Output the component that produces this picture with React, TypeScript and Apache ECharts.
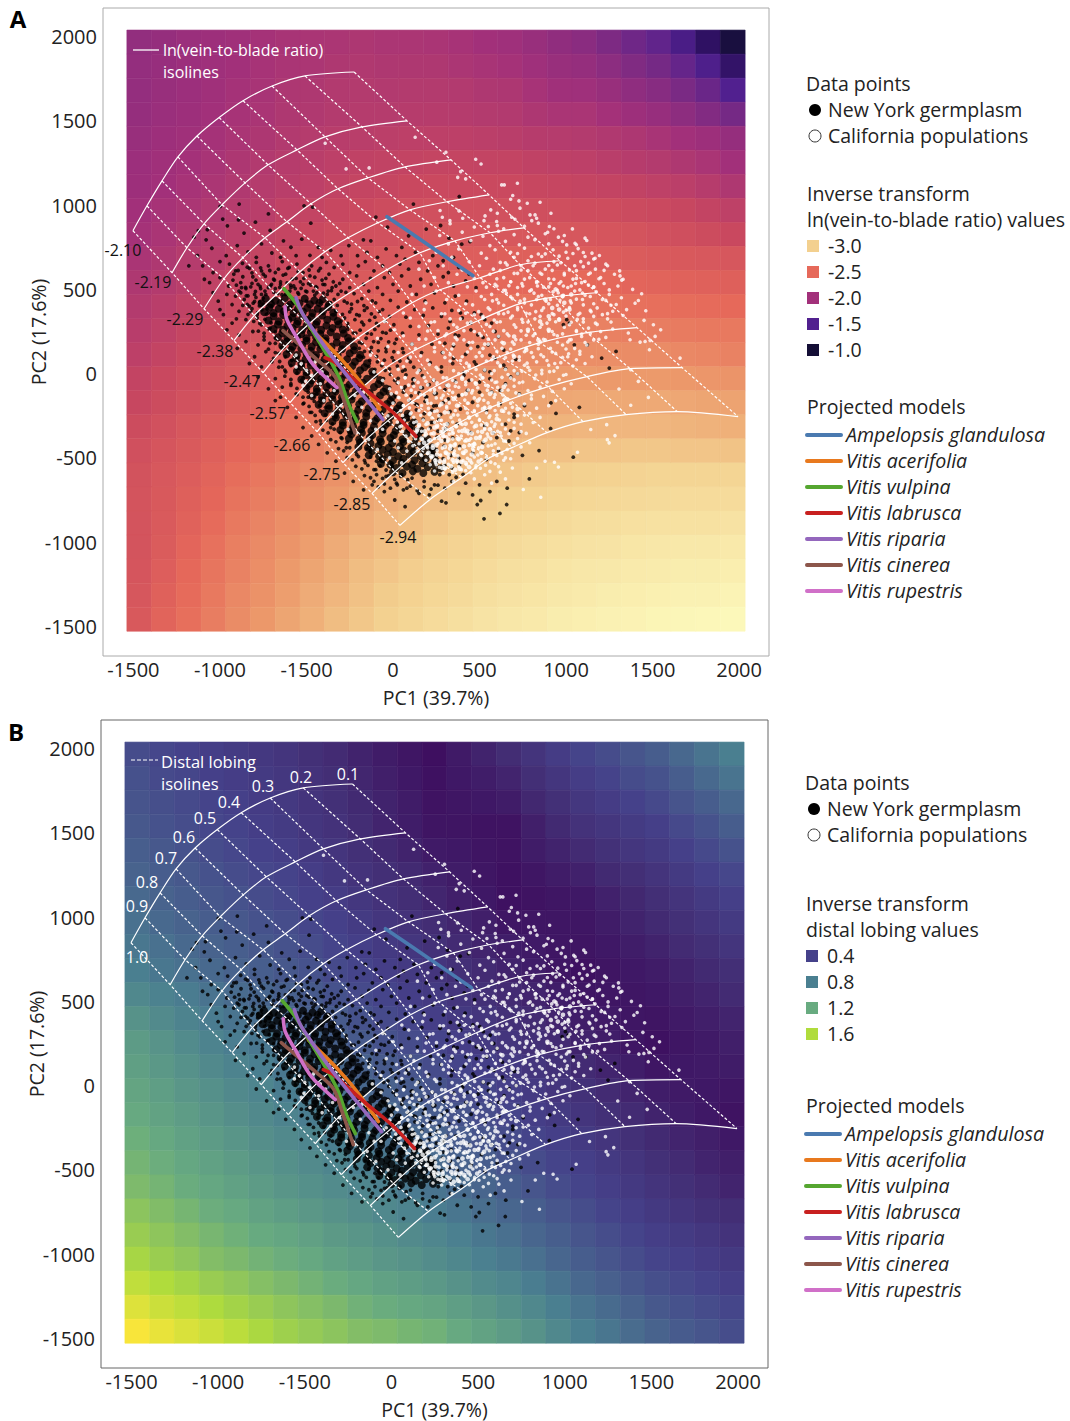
import React, { useEffect, useRef } from "react";
import * as echarts from "echarts";

const xTickValues = [-1500, -1000, -500, 0, 500, 1000, 1500, 2000];
const xTickLabels = ["-1500", "-1000", "-1500", "0", "500", "1000", "1500", "2000"];
const yTickValues = [-1500, -1000, -500, 0, 500, 1000, 1500, 2000];
const yTickLabels = ["-1500", "-1000", "-500", "0", "500", "1000", "1500", "2000"];

// -ln(vein-to-blade ratio) x 100, top row first
const veinRows = [
[190,192,195,197,199,202,204,205,206,207,206,206,205,203,200,198,194,189,185,177,168,160,145,125,105],
[191,193,196,198,200,203,205,206,208,209,208,208,208,206,204,202,198,194,192,186,179,172,162,148,128],
[191,194,196,199,202,204,207,208,210,211,210,211,211,210,208,207,203,199,198,194,188,183,175,165,150],
[192,195,197,200,203,205,208,209,211,212,212,213,213,212,211,210,207,205,205,201,197,193,187,180,172],
[194,197,199,202,205,207,210,212,214,215,216,217,217,217,216,215,213,212,211,209,207,204,200,197,192],
[196,199,201,204,207,210,213,215,217,219,220,221,222,222,221,221,219,218,217,215,213,211,208,205,200],
[197,200,203,206,209,212,215,217,220,222,223,225,226,226,226,226,224,223,222,221,220,218,216,213,208],
[200,203,206,209,212,215,219,221,224,226,228,230,231,231,231,232,230,230,229,229,227,226,224,221,218],
[202,205,209,212,216,219,222,225,228,231,232,234,236,237,237,237,237,236,236,235,234,232,230,228,225],
[205,208,212,215,219,222,226,229,232,235,237,239,241,242,242,243,243,243,242,241,240,239,238,237,236],
[208,211,215,219,223,226,230,233,236,239,242,243,246,247,248,249,249,250,250,249,247,246,245,244,243],
[211,215,219,222,226,230,234,237,241,244,246,248,251,253,253,255,256,256,256,255,254,253,252,251,250],
[214,218,222,226,230,234,238,241,245,248,251,253,256,258,259,261,262,262,263,262,261,260,259,258,258],
[217,221,225,229,234,238,242,245,249,253,256,258,261,263,265,267,268,268,269,269,268,268,266,265,263],
[221,225,229,233,237,241,246,250,254,258,261,264,267,269,271,273,274,275,276,275,275,275,274,273,272],
[224,228,232,236,241,245,250,254,258,262,265,269,272,274,277,279,280,281,282,282,282,282,281,280,279],
[228,232,236,240,245,249,254,258,262,267,270,274,277,279,282,284,286,287,288,288,288,288,287,286,285],
[231,235,239,243,248,253,258,262,267,271,275,279,282,285,287,290,292,293,295,295,296,296,295,295,294],
[233,237,241,246,252,257,262,267,271,276,280,283,287,290,292,295,297,299,301,302,303,304,304,304,304],
[234,238,243,248,255,260,265,270,275,280,284,287,291,294,297,300,302,304,306,307,308,309,310,310,310],
[234,239,245,251,258,264,269,274,279,284,288,292,296,299,301,304,306,309,311,312,314,315,315,315,316],
[234,240,247,254,261,267,272,277,283,288,292,296,300,303,306,309,311,314,316,317,319,320,321,321,322],
[235,242,249,256,263,269,275,280,285,291,295,299,303,306,310,313,315,318,320,321,323,324,325,325,326],
[236,244,251,258,266,271,277,283,288,293,298,302,306,309,313,316,318,321,323,325,326,328,329,329,331],
[238,246,253,260,268,274,280,285,291,296,301,305,310,313,317,320,322,325,327,329,330,332,333,334,335],
];

// distal lobing x 100, top row first
const lobingRows = [
[47,44,40,37,34,31,28,23,19,14,10,7,3,9,14,20,27,35,42,47,53,58,65,73,80],
[50,46,43,39,36,33,30,25,21,16,12,8,4,8,11,15,22,29,36,41,47,51,58,66,73],
[52,49,46,42,39,35,32,27,23,18,14,10,5,7,8,10,17,23,30,35,40,45,52,58,65],
[55,51,48,44,41,37,34,29,25,20,15,11,6,6,5,5,12,18,25,29,34,38,45,51,58],
[59,55,51,47,44,40,37,32,28,23,18,14,9,8,6,5,10,14,19,24,29,33,39,45,51],
[62,58,55,51,47,44,41,36,31,26,22,18,13,10,7,4,7,10,13,18,22,27,33,39,44],
[66,62,58,54,51,47,44,39,35,30,25,21,16,12,8,4,5,7,8,13,17,22,27,33,38],
[71,66,62,58,55,51,48,43,39,34,29,25,20,16,12,7,7,7,7,10,14,18,23,28,33],
[75,71,66,62,59,55,51,47,42,38,33,29,24,19,15,11,9,7,6,8,11,14,19,23,28],
[80,75,71,66,62,59,55,51,46,42,37,33,28,23,19,14,11,7,4,6,8,10,14,18,22],
[88,83,78,72,68,64,60,56,51,46,42,37,33,28,23,19,15,11,7,7,7,8,12,15,19],
[97,90,84,78,73,69,65,60,56,51,46,42,37,32,28,23,19,15,11,9,7,6,9,12,15],
[105,98,91,84,79,75,70,65,61,56,51,47,42,37,33,28,23,19,14,11,7,4,7,9,12],
[109,103,96,89,84,80,75,70,66,61,56,52,47,42,38,33,28,24,19,15,11,7,8,9,10],
[114,108,101,95,89,85,79,75,71,66,61,57,52,47,43,38,33,28,24,19,15,11,9,8,7],
[118,112,106,100,94,89,84,79,75,70,66,61,57,52,47,42,37,33,28,23,19,14,11,8,5],
[123,117,111,105,100,94,89,85,80,75,71,66,62,57,52,47,42,38,33,28,23,18,15,12,8],
[127,122,116,111,105,100,95,90,85,81,76,72,67,62,58,52,47,42,38,33,28,23,19,15,12],
[132,127,121,116,111,105,100,95,91,86,82,77,73,68,63,58,53,47,42,37,32,27,23,19,15],
[140,134,128,122,118,112,107,102,97,93,88,84,79,74,69,64,59,53,48,42,37,32,28,24,21],
[147,141,135,129,124,119,115,110,104,100,95,90,86,81,75,70,64,59,53,48,42,37,34,30,26],
[155,148,142,135,131,126,122,117,111,106,101,97,92,87,81,76,70,64,58,53,47,42,39,35,32],
[167,160,154,147,142,136,131,126,121,116,111,107,103,97,91,86,79,72,65,60,54,49,45,41,37],
[180,172,166,159,153,147,141,136,131,125,121,117,114,108,102,95,88,80,73,67,61,55,51,47,43],
[192,185,178,172,165,157,150,145,140,135,132,128,125,118,112,105,97,88,80,74,68,62,57,53,48],
];

// isoline nodes [PC1, PC2]: one row per vein-to-blade isoline, one column per lobing isoline
const isoNodes = [
[[-1503,848],[-1422,996],[-1335,1144],[-1243,1286],[-1133,1410],[-1005,1520],[-867,1620],[-699,1707],[-509,1767],[-225,1790]],
[[-1277,599],[-1191,747],[-1092,889],[-988,1002],[-855,1132],[-722,1239],[-555,1328],[-393,1405],[-179,1464],[81,1500]],
[[-1092,385],[-977,563],[-867,688],[-740,806],[-613,901],[-474,1008],[-318,1097],[-145,1162],[69,1227],[335,1269]],
[[-919,196],[-803,344],[-676,468],[-538,605],[-393,723],[-260,806],[-87,895],[98,972],[312,1020],[555,1061]],
[[-751,6],[-624,160],[-491,290],[-353,409],[-202,510],[-35,617],[156,717],[358,788],[561,836],[757,865]],
[[-595,-172],[-468,-24],[-335,101],[-202,213],[-46,320],[110,421],[272,498],[503,569],[734,646],[965,670]],
[[-439,-344],[-318,-202],[-179,-83],[-40,36],[110,130],[254,202],[491,314],[734,415],[936,456],[1179,480]],
[[-289,-528],[-162,-397],[-29,-279],[110,-166],[254,-71],[428,18],[618,101],[850,184],[1121,243],[1410,273]],
[[-121,-711],[12,-581],[156,-451],[318,-332],[474,-243],[676,-154],[896,-77],[1121,-18],[1370,30],[1670,36]],
[[40,-901],[214,-747],[399,-617],[561,-498],[688,-439],[890,-350],[1098,-285],[1347,-243],[1642,-225],[1994,-255]],
];

const veinIsoLabels = ["-2.10", "-2.19", "-2.29", "-2.38", "-2.47", "-2.57", "-2.66", "-2.75", "-2.85", "-2.94"];
const lobingIsoLabels = ["1.0", "0.9", "0.8", "0.7", "0.6", "0.5", "0.4", "0.3", "0.2", "0.1"];

const modelNames = ["Ampelopsis glandulosa", "Vitis acerifolia", "Vitis vulpina", "Vitis labrusca", "Vitis riparia", "Vitis cinerea", "Vitis rupestris"];
const ampelopsis = [[-35,931],[202,765],[462,581]];
const acerifolia = [[-480,273],[-439,231],[-324,113],[-208,-24],[-75,-213]];
const vulpina = [[-630,504],[-555,409],[-480,279],[-370,90],[-306,-36],[-260,-172],[-208,-285]];
const labrusca = [[-393,95],[-335,65],[-173,-83],[0,-231],[133,-373]];
const riparia = [[-561,451],[-526,362],[-462,261],[-347,95],[-191,-107],[-58,-273]];
const cinerea = [[-636,255],[-555,184],[-439,83],[-335,-18],[-289,-142],[-220,-350]];
const rupestris = [[-624,397],[-613,320],[-555,213],[-462,53],[-324,-83]];

// New York germplasm, flat PC1,PC2 pairs
const nyPoints = [
-889,1006,-999,992,-984,917,-893,913,-795,899,-720,948,-514,996,-464,988,-475,893,-99,929,118,1006,-1125,848,-1073,854,-957,877,-861,834,-710,850,-1150,810,-1080,794,-633,788,-527,798,-431,749,-171,794,-128,788,90,818,51,749,-32,869,192,858,275,879,383,1051,324,804,397,768,445,784,
1042,-496,844,-457,748,-485,788,-625,911,-326,1077,-200,913,-174,942,-236,1250,33,1206,92,1289,132,1123,171,1048,171,1004,320,1020,300,985,290,657,-777,618,-830,526,-862,507,-753,487,-777,281,-757,306,-767,
-1047,744,-964,700,-900,760,-838,722,-790,690,-760,770,-700,716,-650,690,-590,750,-560,700,-480,702,-410,690,-360,732,-300,700,-255,760,-205,700,-150,720,-90,690,-40,740,20,700,70,680,130,720,230,700,290,670,350,690,
-1100,640,-1040,600,-1000,665,-945,650,-910,610,-870,655,-830,625,-790,660,-760,610,-720,640,-680,600,-640,665,-600,630,-555,650,-520,600,-470,640,-430,610,-385,660,-340,630,-290,650,-250,600,-200,640,-160,665,-110,610,-60,640,-20,600,40,650,90,620,150,660,200,610,260,640,320,600,380,630,440,590,
-1060,540,-1000,570,-950,520,-920,590,-880,540,-850,505,-810,575,-780,530,-750,590,-720,510,-690,560,-650,530,-620,590,-590,510,-560,565,-520,530,-480,580,-440,510,-410,555,-370,590,-330,520,-290,560,-250,510,-210,580,-170,530,-130,565,-90,510,-50,570,0,530,50,580,100,520,160,560,220,530,290,575,350,520,420,550,480,510,
-1010,430,-960,470,-930,410,-890,490,-860,440,-830,400,-800,470,-770,425,-740,490,-700,405,-665,475,-630,500,-590,450,-550,480,-500,430,-460,490,-420,420,-380,470,-340,440,-300,490,-265,420,-225,475,-180,445,-140,490,-100,420,-60,470,-15,435,30,490,80,425,135,470,185,430,240,480,300,420,360,460,425,430,
-980,350,-930,300,-890,370,-850,320,-815,385,-785,330,-760,290,-720,360,-330,370,-280,330,-240,385,-195,345,-150,390,-105,335,-60,380,-20,340,30,395,75,335,125,380,175,345,230,390,280,340,340,375,400,330,470,360,530,320,
-890,230,-850,190,-810,250,-780,170,-745,220,-710,270,-680,180,-260,280,-215,240,-170,290,-125,235,-85,285,-40,240,5,290,55,240,100,280,150,230,205,285,260,235,320,270,380,225,450,260,520,215,590,250,
-800,100,-760,40,-735,130,-700,70,-660,120,-640,40,-180,180,-130,130,-85,185,-40,130,10,180,60,125,110,175,165,125,225,175,285,125,350,165,420,115,490,160,560,110,640,140,
-680,-30,-640,-80,-620,10,-590,-60,-560,-120,-530,-40,-90,70,-45,20,5,75,55,15,100,70,155,20,215,65,280,10,345,60,410,5,480,55,560,10,640,50,720,0,
-520,-180,-490,-140,-470,-230,-440,-120,-420,-280,-390,-200,-360,-320,-330,-260,10,-40,60,-90,115,-35,170,-85,235,-40,300,-95,360,-45,430,-100,500,-50,570,-110,650,-60,730,-120,
-300,-380,-270,-440,-240,-350,-210,-480,-190,-420,-160,-530,-130,-460,-100,-570,-70,-510,-40,-610,-10,-540,20,-650,130,-180,190,-140,250,-190,320,-150,390,-210,460,-170,540,-220,620,-180,700,-240,
50,-600,80,-680,110,-620,150,-710,180,-640,210,-720,240,-660,270,-600,300,-680,340,-640,380,-710,420,-650,460,-720,500,-660,560,-700,600,-640,660,-680,230,-290,300,-340,370,-300,450,-350,530,-310,600,-380,680,-340,
-650,-140,-610,-200,-560,-260,-520,-320,-470,-370,-430,-420,-380,-470,-330,-520,-280,-590,-230,-640,-170,-690,-110,-640,-50,-700,10,-750,70,-790,
-1130,700,-1180,640,-1090,560,-1040,480,-1000,380,-960,260,-900,150,-830,60,-780,-20,-720,-90,-680,-160,
];

// second reading of the New York cloud: the fringe round the dense band
const nyFringePoints = [
-905,525,-852,512,-815,535,-768,518,-702,530,-655,512,-612,538,-574,520,-531,506,-488,534,-446,516,-394,528,-352,510,-308,535,
-880,480,-838,462,-795,488,-760,470,-688,482,-642,468,-596,490,-545,472,-498,486,-452,465,-402,478,-356,492,-318,470,-272,482,
-842,410,-800,428,-772,402,-750,448,-362,420,-322,405,-282,430,-240,412,-205,428,-168,404,-120,432,
-822,368,-785,350,-758,378,-732,352,-330,372,-292,352,-250,366,-210,350,-165,375,-125,355,-80,368,
-805,310,-770,298,-740,322,-705,302,-300,312,-262,298,-220,320,-180,305,-135,316,-95,298,-45,312,
-778,252,-745,240,-718,265,-680,248,-262,262,-230,242,-190,258,-150,240,-105,262,-60,245,-15,258,
-745,200,-712,180,-680,212,-640,192,-228,205,-195,185,-155,210,-112,190,-70,208,-25,188,20,205,
-720,145,-680,125,-645,155,-610,135,-195,150,-165,132,-125,155,-85,135,-40,150,5,130,55,148,
-690,90,-655,72,-622,100,-585,78,-170,98,-135,78,-95,102,-50,80,-5,95,40,75,90,92,
-660,38,-625,20,-590,48,-555,28,-140,42,-105,25,-65,48,-20,28,25,45,70,22,120,38,
-625,-15,-590,-35,-555,5,-520,-25,-95,-12,-55,-30,-15,-5,30,-28,75,-8,120,-32,170,-12,
-590,-70,-555,-88,-520,-55,-495,-85,-60,-62,-20,-82,25,-55,70,-78,115,-60,160,-85,210,-65,
-555,-125,-520,-140,-490,-110,-460,-135,-30,-118,15,-135,60,-110,105,-132,150,-115,195,-138,250,-118,
-515,-175,-485,-195,-455,-165,-425,-190,5,-170,50,-188,95,-160,140,-185,185,-165,235,-192,290,-172,
-480,-230,-450,-248,-420,-222,-390,-245,45,-225,90,-240,135,-215,180,-238,225,-218,275,-242,330,-225,
-445,-285,-415,-300,-385,-278,-350,-298,90,-275,130,-292,175,-270,220,-290,265,-272,315,-298,
-405,-335,-375,-352,-340,-330,-305,-350,130,-330,170,-345,215,-322,260,-342,305,-325,
-360,-392,-330,-405,-295,-385,-265,-408,170,-382,210,-398,255,-375,300,-395,345,-380,
-315,-445,-285,-458,-250,-440,-215,-462,-150,-445,205,-435,250,-450,295,-430,340,-448,385,-432,
-265,-498,-235,-512,-200,-492,-165,-515,-130,-495,-95,-520,250,-490,290,-505,335,-485,380,-502,
-215,-550,-180,-565,-145,-545,-110,-570,-75,-548,-40,-572,-5,-555,300,-545,340,-560,385,-540,
-165,-605,-130,-618,-95,-600,-60,-622,-25,-605,10,-628,45,-610,85,-630,325,-600,365,-615,405,-598,
-120,-660,-85,-672,-50,-655,-15,-680,25,-660,60,-690,100,-668,140,-695,180,-672,220,-685,260,-662,
240,-120,310,-70,380,-130,440,-40,500,-110,560,-30,620,-100,680,-20,
280,40,350,90,410,-10,470,70,530,20,590,90,650,30,710,85,
300,180,360,230,430,170,490,230,550,170,610,220,
330,310,390,360,450,300,510,350,570,300,
700,-260,760,-190,650,-300,580,-350,520,-410,460,-470,540,-510,610,-460,670,-400,730,-350,
-925,555,-895,612,-868,575,-842,632,-815,598,-792,555,-765,628,-738,578,-712,612,-685,555,-662,620,-635,585,-608,625,-582,560,-548,605,-515,565,-485,615,-452,572,-420,625,-388,565,
-910,460,-875,510,-848,462,-822,515,-792,452,-765,505,-735,470,-708,520,-680,505,-650,545,-622,470,-592,525,-565,505,-535,545,-505,490,-475,525,-440,480,-405,530,-375,490,-345,545,
-905,325,-868,405,-838,352,-808,418,-782,362,-752,412,-728,385,-700,435,
];

// dense part of the New York cloud, drawn with bigger dots
const nyCorePoints = [
-735,445,-680,432,-625,448,-570,430,-510,445,-455,434,-405,442,
-715,392,-660,385,-605,395,-550,382,-495,390,-435,385,-375,395,
-690,340,-635,348,-580,335,-525,345,-470,336,-410,345,-345,338,
-665,292,-610,285,-555,295,-500,285,-445,292,-385,285,-315,292,
-640,240,-585,248,-530,235,-475,245,-420,236,-360,246,-285,238,
-610,192,-555,185,-500,195,-445,186,-390,194,-325,185,-255,192,
-590,140,-530,148,-475,135,-420,146,-365,136,-295,145,-225,138,
-560,92,-505,85,-450,95,-395,86,-335,94,-265,85,-195,92,
-530,40,-475,48,-420,35,-365,46,-305,36,-235,45,-165,38,
-500,-8,-445,-15,-390,-5,-335,-14,-275,-6,-205,-15,-115,-8,
-480,-60,-420,-52,-365,-65,-310,-54,-250,-64,-175,-55,-85,-62,
-440,-108,-385,-115,-330,-105,-275,-114,-215,-106,-135,-115,-55,-108,
-410,-160,-350,-152,-295,-165,-240,-154,-180,-164,-100,-155,-15,-162,
-370,-208,-315,-215,-260,-205,-200,-214,-140,-206,-60,-215,25,-208,
-330,-260,-270,-252,-215,-265,-155,-254,-90,-264,-15,-255,75,-262,
-290,-308,-230,-315,-170,-305,-110,-314,-45,-306,30,-315,105,-308,
-240,-360,-180,-352,-120,-365,-60,-354,5,-364,80,-355,145,-362,
-190,-408,-130,-415,-70,-405,-5,-414,60,-406,125,-415,185,-408,
-120,-460,-60,-452,0,-465,60,-454,120,-464,180,-455,225,-462,
-60,-508,0,-515,60,-505,125,-514,190,-506,245,-515,
20,-560,80,-552,140,-565,200,-554,275,-562,
-760,418,-705,412,-650,420,-595,410,-540,418,-480,412,-425,420,-370,410,
-745,365,-690,360,-630,370,-575,360,-520,368,-465,360,-405,370,-345,362,
-720,315,-660,310,-605,320,-550,310,-495,318,-440,310,-380,320,-320,312,
-690,265,-635,260,-580,270,-525,260,-470,268,-415,260,-350,270,-290,262,
-665,215,-610,210,-555,220,-500,210,-445,218,-390,210,-325,220,-260,212,
-640,165,-580,160,-525,170,-470,160,-415,168,-355,160,-290,170,-225,162,
-615,115,-555,110,-500,120,-445,110,-385,118,-320,110,-250,120,-190,112,
-585,65,-530,60,-475,70,-420,60,-360,68,-290,60,-220,70,-150,62,
-555,15,-500,10,-445,20,-390,10,-330,18,-260,10,-190,20,-120,12,
-530,-35,-470,-40,-415,-30,-360,-40,-300,-32,-225,-40,-150,-30,-75,-38,
-500,-85,-440,-90,-385,-80,-330,-90,-270,-82,-195,-90,-110,-80,-40,-88,
-465,-135,-410,-140,-350,-130,-295,-140,-235,-132,-155,-140,-75,-130,-5,-138,
-430,-185,-370,-190,-315,-180,-260,-190,-195,-182,-115,-190,-35,-180,40,-188,
-395,-235,-335,-240,-280,-230,-220,-240,-155,-232,-75,-240,10,-230,85,-238,
-350,-285,-290,-290,-230,-280,-170,-290,-105,-282,-25,-290,55,-280,120,-288,
-305,-335,-245,-340,-185,-330,-125,-340,-60,-332,15,-340,95,-330,160,-338,
-255,-385,-195,-390,-135,-380,-75,-390,-15,-382,55,-390,135,-380,200,-388,
-200,-435,-145,-440,-85,-430,-25,-440,40,-432,105,-440,165,-430,225,-438,
-140,-485,-80,-490,-30,-480,30,-490,95,-482,160,-490,220,-480,
-70,-535,-15,-540,50,-530,110,-540,170,-532,235,-540,
0,-585,55,-590,115,-580,175,-590,240,-582,
];

// California populations, flat PC1,PC2 pairs
const caPoints = [
-392,1367,128,1403,-271,1215,-138,1221,253,1255,306,1314,478,1272,509,1244,391,1199,374,1165,420,1156,628,1120,643,1120,719,1130,692,1057,680,1035,728,1025,776,1011,850,1017,734,982,913,952,565,972,603,952,272,968,381,966,285,928,403,922,329,908,532,936,526,908,599,903,603,879,551,873,686,928,705,916,792,942,821,942,830,922,802,908,840,893,904,873,1037,859,894,839,956,810,1110,804,1052,774,1004,764,1193,701,1168,685,1100,719,1312,580,1322,555,1437,474,1418,434,1399,418,1461,373,1451,316,1505,290,1547,260,1515,221,1486,197,1457,191,1428,187,1370,201,1360,241,1482,142,1659,92,1374,23,1418,-46,1306,-91,1476,-141,1374,-188,1235,-303,1283,-368,1239,-392,1249,-411,1143,-332,1066,-467,956,-554,933,-526,879,-520,830,-560,854,-734,753,-688,
330,890,470,870,640,860,760,875,930,860,
270,820,400,840,520,815,610,845,700,825,780,810,880,830,990,820,
320,770,450,790,560,760,650,785,730,765,820,795,900,770,980,785,1060,765,1120,790,
250,720,380,740,510,715,590,735,680,720,760,745,840,710,925,735,1000,720,1070,742,1150,715,
210,670,340,690,440,665,540,685,620,660,700,690,780,670,860,695,930,665,1010,685,1085,665,1160,680,1230,650,
150,620,290,640,400,615,500,640,580,620,660,645,740,615,810,640,880,620,950,645,1020,615,1100,635,1170,620,1240,640,1310,610,
240,570,370,590,470,565,560,590,640,570,720,595,790,570,860,590,930,560,990,585,1060,565,1130,590,1200,570,1280,590,1330,560,
180,520,320,540,430,515,520,540,600,520,680,545,750,520,830,540,900,515,960,535,1030,520,1090,540,1160,515,1220,535,1300,520,1385,500,
110,470,250,490,380,465,480,490,570,470,650,495,720,470,790,490,860,465,925,485,985,465,1050,490,1110,465,1175,485,1250,470,1320,450,
190,420,310,440,420,415,530,440,610,420,690,445,760,420,830,440,900,415,965,435,1030,420,1095,440,1160,415,1230,435,1290,410,1350,380,
60,360,180,380,280,355,380,375,470,350,560,380,640,355,720,380,790,355,860,375,930,350,1000,375,1070,350,1140,375,1210,350,1270,370,1330,345,
-50,310,100,330,220,305,330,325,430,300,520,330,600,305,680,330,750,305,820,325,890,300,960,325,1030,305,1100,325,1170,300,1240,325,
10,260,150,280,260,255,370,275,470,250,560,280,640,255,710,275,780,250,850,275,920,250,990,275,1060,250,1130,270,1200,250,1270,265,
-90,210,60,225,190,205,300,225,410,200,510,225,590,200,670,225,740,200,810,225,880,200,950,225,1020,200,1090,220,1160,200,1230,215,
-30,160,110,175,240,155,350,175,450,150,550,175,630,150,700,175,770,150,840,175,910,150,980,170,1050,150,1120,170,
-130,110,30,125,160,105,290,125,400,100,500,125,580,100,660,125,730,100,800,125,870,100,940,120,1010,100,1080,115,1150,100,
-60,60,80,75,210,55,330,75,440,50,540,75,620,50,690,75,760,50,830,70,900,50,970,65,1040,45,1110,60,
-110,10,30,25,140,5,260,25,380,0,480,25,570,0,650,25,720,0,790,20,860,0,930,15,1000,-5,
-60,-40,70,-25,190,-45,310,-25,420,-50,520,-25,600,-50,680,-25,750,-50,820,-30,890,-50,960,-35,1030,-60,
-20,-90,120,-75,240,-95,360,-75,460,-100,550,-75,630,-100,700,-75,780,-100,850,-80,920,-105,990,-90,
30,-140,160,-125,280,-145,400,-125,500,-150,590,-125,660,-150,730,-125,800,-150,870,-135,940,-160,
60,-190,200,-175,310,-195,430,-175,530,-200,610,-175,690,-200,760,-180,830,-205,900,-190,
100,-240,240,-225,350,-245,470,-225,560,-250,640,-225,720,-250,790,-235,850,-260,
120,-290,270,-275,390,-295,500,-275,590,-300,670,-275,740,-300,810,-290,
140,-340,290,-325,420,-345,530,-325,620,-350,700,-325,770,-355,
170,-390,310,-375,440,-395,550,-375,640,-400,720,-385,790,-410,
200,-440,330,-425,460,-445,570,-425,660,-450,740,-435,
230,-490,350,-475,470,-495,580,-480,680,-505,
250,-540,370,-525,480,-545,590,-535,690,-560,
290,-590,420,-575,530,-600,620,-585,
350,-640,470,-625,570,-650,650,-625,
-560,110,-530,60,-500,20,-470,-10,-450,70,-420,-60,-380,-20,-340,-100,-300,-190,-350,-240,-250,-260,-220,-130,-180,-200,-130,-280,-90,-180,-60,-330,-30,-250,10,-400,50,-310,80,-460,120,-370,-400,-160,-470,-130,-520,-70,-210,-350,-140,-390,-90,-450,-20,-500,50,-530,160,-480,-560,40,-505,-45,-410,10,-300,-60,-260,-330,-170,-110,-10,-120,-100,-330,30,-440,
];

// second reading of the California cloud: where it is densest
const caDensePoints = [
240,-578,300,-566,345,-585,395,-570,450,-588,505,-562,560,-580,
215,-541,268,-556,320,-538,380,-552,425,-540,478,-558,535,-544,610,-552,
190,-514,245,-528,298,-512,350,-526,405,-516,455,-530,510,-510,565,-525,640,-514,
165,-486,222,-499,275,-484,320,-500,375,-488,430,-502,490,-483,540,-498,600,-486,650,-500,
140,-458,200,-473,255,-457,305,-472,355,-460,410,-474,465,-456,515,-471,580,-458,630,-474,690,-462,
115,-428,175,-444,230,-427,285,-442,335,-430,385,-445,440,-426,495,-441,550,-429,610,-444,
90,-401,150,-416,205,-399,260,-415,315,-402,360,-417,415,-400,470,-414,525,-402,590,-416,650,-400,700,-414,
75,-371,130,-386,185,-369,240,-385,295,-372,345,-387,395,-370,450,-385,505,-372,565,-386,625,-370,
55,-343,110,-358,165,-342,220,-357,275,-344,325,-359,380,-341,435,-356,490,-344,545,-358,605,-342,670,-357,740,-344,
40,-315,95,-330,150,-314,205,-329,255,-316,310,-331,365,-313,415,-328,470,-316,530,-330,585,-314,650,-328,
25,-288,80,-303,135,-286,190,-302,240,-289,295,-303,345,-287,400,-302,455,-289,510,-304,570,-286,630,-301,700,-289,
15,-261,65,-276,120,-259,175,-275,225,-262,280,-277,335,-260,385,-275,440,-262,500,-276,555,-260,615,-275,
5,-233,55,-248,105,-232,160,-247,215,-234,265,-249,320,-231,375,-246,430,-234,485,-248,540,-232,600,-246,670,-234,760,-246,
-10,-205,45,-220,95,-203,150,-219,205,-206,255,-221,310,-204,360,-219,420,-206,470,-220,530,-204,590,-219,650,-206,
0,-175,60,-190,110,-173,165,-189,220,-176,270,-191,325,-174,380,-189,435,-176,490,-190,550,-174,610,-189,680,-176,
35,-143,90,-158,145,-142,195,-157,250,-144,305,-159,360,-141,415,-157,470,-144,525,-158,585,-142,640,-157,
20,-113,75,-128,130,-112,180,-127,240,-114,290,-129,345,-111,400,-126,455,-114,515,-128,570,-112,635,-127,710,-114,800,-127,
50,-83,105,-98,160,-82,215,-97,270,-84,325,-99,380,-81,435,-97,490,-84,545,-98,605,-82,665,-97,
30,-53,90,-68,145,-52,200,-67,255,-54,310,-69,365,-51,420,-66,475,-54,535,-68,590,-52,650,-67,730,-54,
70,-23,125,-38,180,-22,235,-37,290,-24,345,-39,400,-21,455,-37,515,-24,570,-38,630,-22,700,-37,
60,42,150,20,250,38,350,18,440,40,530,22,620,42,700,18,780,38,860,20,950,36,
100,98,200,80,300,96,390,78,480,100,570,82,650,96,730,80,810,98,890,78,980,96,1060,82,
130,148,240,130,340,146,430,128,520,150,600,132,680,146,760,130,840,148,920,128,1000,146,1080,132,
150,205,270,185,370,202,460,186,550,205,630,186,710,202,790,185,870,204,950,186,1030,202,1110,185,1190,204,
200,253,310,236,410,255,500,238,580,252,660,236,740,254,820,238,900,252,980,236,1060,255,1140,238,
240,308,350,290,450,306,540,292,620,308,700,290,780,306,860,292,940,308,1020,290,1100,306,1180,292,1260,306,
420,358,520,340,610,356,690,342,770,358,850,340,920,356,1000,342,1080,358,1160,340,1240,356,
460,408,550,390,640,406,720,392,800,408,870,390,950,406,1020,392,1100,408,1180,390,1260,406,
510,458,600,440,680,456,760,442,840,458,910,440,980,456,1060,442,1140,458,1210,440,
540,513,640,495,720,511,800,497,870,513,950,495,1010,511,1080,497,1160,513,1250,497,
600,563,680,545,760,561,830,547,900,563,970,545,1040,561,1110,547,1190,563,
620,613,700,595,780,611,850,597,920,613,990,595,1060,611,1140,597,1220,613,
650,658,740,640,820,656,900,642,970,658,1050,640,1130,656,
720,713,800,695,880,711,960,697,1040,713,1110,695,
420,10,505,-8,585,18,665,-5,745,15,825,-8,905,12,985,-10,
330,112,425,62,515,105,605,65,695,110,775,62,855,112,935,60,1015,118,
360,215,440,185,530,175,610,222,690,188,770,228,850,190,930,232,1010,188,1090,235,
300,355,390,325,495,368,585,318,665,365,745,322,825,368,905,322,985,365,1065,322,1145,368,
575,432,655,478,735,430,815,478,885,430,955,480,1025,432,1095,478,
590,530,670,522,745,535,835,520,910,535,985,520,1055,535,1130,525,
];

// dense part of the California cloud, drawn with bigger dots
const caCorePoints = [
140,-330,190,-360,240,-320,290,-370,340,-330,180,-410,230,-440,280,-400,330,-445,380,-390,220,-490,270,-520,320,-480,370,-515,420,-460,470,-420,430,-340,500,-380,560,-330,300,-560,360,-570,420,-530,
300,-230,370,-190,440,-260,520,-210,600,-270,650,-150,720,-210,
880,440,940,500,990,420,1030,470,960,380,900,340,
150,-305,200,-295,255,-310,310,-300,365,-312,420,-298,480,-310,540,-300,
130,-350,185,-342,235,-355,290,-345,345,-352,400,-340,455,-355,515,-345,575,-352,
165,-385,215,-395,265,-382,320,-392,375,-385,425,-395,480,-382,535,-392,
195,-430,250,-425,300,-435,355,-425,410,-432,460,-425,515,-435,
205,-470,255,-480,305,-468,355,-482,405,-470,455,-480,510,-470,
245,-515,295,-525,345,-512,395,-525,445,-515,495,-522,
285,-560,335,-550,385,-565,440,-555,
560,-200,630,-220,490,-160,420,-120,350,-150,280,-180,210,-240,560,-120,640,-80,480,-60,400,-30,320,-70,
700,100,770,140,840,200,900,260,960,320,1020,380,850,310,920,390,780,260,700,220,640,180,980,460,
];

const magmaDomain = [100, 125, 150, 175, 200, 225, 250, 275, 300, 335];
const magmaColors = ["#140e36", "#2f1163", "#51208f", "#7a2a84", "#a2307a", "#c9485f", "#e6695a", "#ec9a6b", "#f3d08f", "#fcf8ba"];
const viridisDomain = [0, 20, 40, 80, 120, 160, 192];
const viridisColors = ["#3d0a5c", "#432d74", "#45418a", "#4a7f90", "#68ab80", "#b0dc3c", "#f8e53a"];

const veinSwatchLabels = ["-3.0", "-2.5", "-2.0", "-1.5", "-1.0"];
const veinSwatchColors = ["#f3d08f", "#e6695a", "#a2307a", "#51208f", "#140e36"];
const lobingSwatchLabels = ["0.4", "0.8", "1.2", "1.6"];
const lobingSwatchColors = ["#45418a", "#4a7f90", "#68ab80", "#b0dc3c"];
const modelColors = ["#4a7ab0", "#e8791e", "#55a630", "#c8201f", "#9467bd", "#8c564b", "#d070c8"];

const FONT = "'Open Sans', sans-serif";
const AXIS_MIN = -1676;
const AXIS_MAX_X = 2173;
const AXIS_MAX_Y = 2170;
const HEAT_X0 = -1538, HEAT_X1 = 2035, HEAT_Y0 = -1529, HEAT_Y1 = 2039;

function ramp(v: number, domain: number[], colors: string[]) {
  for (let i = 0; i < domain.length - 1; i++) {
    if (v <= domain[i + 1]) {
      const t = Math.max(0, (v - domain[i]) / (domain[i + 1] - domain[i]));
      return echarts.color.lerp(t, [colors[i], colors[i + 1]]) as string;
    }
  }
  return colors[colors.length - 1];
}

function pairs(flat: number[]) {
  const out: number[][] = [];
  for (let i = 0; i + 1 < flat.length; i += 2) out.push([flat[i], flat[i + 1]]);
  return out;
}

function buildPanelSeries(idx: number, rows: number[][], domain: number[], colors: string[]) {
  const nr = rows.length, nc = rows[0].length;
  const sx = (HEAT_X1 - HEAT_X0) / nc, sy = (HEAT_Y1 - HEAT_Y0) / nr;
  const cells: number[][] = [];
  rows.forEach((row, r) => row.forEach((v, c) => cells.push([HEAT_X0 + (c + 0.5) * sx, HEAT_Y1 - (r + 0.5) * sy, v])));
  const base = { xAxisIndex: idx, yAxisIndex: idx, silent: true };
  const series: any[] = [
    {
      ...base, type: "custom", z: 1, data: cells, encode: { x: 0, y: 1 }, progressive: 0,
      renderItem: (_: any, api: any) => {
        const x = api.value(0), y = api.value(1), v = api.value(2);
        const a = api.coord([x - sx / 2, y + sy / 2]);
        const b = api.coord([x + sx / 2, y - sy / 2]);
        const fill = ramp(v, domain, colors);
        return { type: "rect", shape: { x: a[0], y: a[1], width: b[0] - a[0], height: b[1] - a[1] }, style: { fill, stroke: fill, lineWidth: 0.6 } };
      },
    },
    { ...base, type: "scatter", z: 2, symbolSize: 8, progressive: 0, itemStyle: { color: "#000" }, data: pairs(nyCorePoints) },
    { ...base, type: "scatter", z: 2, symbolSize: 3.8, progressive: 0, itemStyle: { color: "#000" }, data: pairs(nyPoints).concat(pairs(nyFringePoints)) },
    { ...base, type: "scatter", z: 3, symbolSize: 4.6, progressive: 0, itemStyle: { color: "#fff" }, data: pairs(caCorePoints) },
    { ...base, type: "scatter", z: 3, symbolSize: 3.6, progressive: 0, itemStyle: { color: "#fff" }, data: pairs(caPoints).concat(pairs(caDensePoints)) },
  ];
  isoNodes.forEach((row) => series.push({
    ...base, type: "line", z: 4, data: row, showSymbol: false, smooth: 0.3, lineStyle: { color: "#fff", width: 1.2 },
  }));
  for (let j = 0; j < 10; j++) series.push({
    ...base, type: "line", z: 4, data: isoNodes.map((r) => r[j]), showSymbol: false, lineStyle: { color: "#fff", width: 1.2, type: [3, 2] },
  });
  [ampelopsis, acerifolia, vulpina, labrusca, riparia, cinerea, rupestris].forEach((m, i) => series.push({
    ...base, type: "line", z: 5, data: m, showSymbol: false, smooth: 0.3, name: modelNames[i], lineStyle: { color: modelColors[i], width: 3.6, cap: "round" },
  }));
  return series;
}

function axes(idx: number) {
  const mapper = (vals: number[], labels: string[]) => (v: number) => labels[vals.indexOf(v)] ?? "";
  const common = {
    gridIndex: idx, type: "value", splitLine: { show: false }, axisLine: { show: false },
    nameLocation: "middle", nameMoveOverlap: false, nameTextStyle: { fontFamily: FONT, fontSize: 19.5, color: "#222" },
  };
  return {
    x: {
      ...common, min: AXIS_MIN, max: AXIS_MAX_X, name: "PC1 (39.7%)", nameGap: 31,
      axisTick: { show: true, length: 3, lineStyle: { color: "#888" }, customValues: xTickValues },
      axisLabel: { customValues: xTickValues, formatter: mapper(xTickValues, xTickLabels), margin: 3, fontFamily: FONT, fontSize: 20, color: "#222" },
    },
    y: {
      ...common, min: AXIS_MIN, max: AXIS_MAX_Y, name: "PC2 (17.6%)", nameGap: 55,
      axisTick: { show: true, length: 3, lineStyle: { color: "#888" }, customValues: yTickValues },
      axisLabel: { customValues: yTickValues, formatter: mapper(yTickValues, yTickLabels), margin: 6, fontFamily: FONT, fontSize: 20, color: "#222" },
    },
  };
}

function text(t: string, x: number, y: number, o: any = {}) {
  return {
    type: "text", x, y, z: 60, silent: true,
    style: { text: t, fontFamily: FONT, fontSize: o.size ?? 19.5, fontStyle: o.italic ? "italic" : "normal", fontWeight: o.bold ? 700 : 400, fill: o.fill ?? "#222", align: o.align ?? "left", verticalAlign: "middle" },
  };
}

function sideLegend(dx: number, ys: any, swLabels: string[], swColors: string[], title2: string) {
  const els: any[] = [];
  els.push(text("Data points", 806 + dx, ys.data - 1));
  els.push({ type: "circle", z: 60, shape: { cx: 815 + dx, cy: ys.data + 26, r: 6 }, style: { fill: "#000" } });
  els.push(text("New York germplasm", 828 + dx, ys.data + 25));
  els.push({ type: "circle", z: 60, shape: { cx: 815 + dx, cy: ys.data + 52, r: 6 }, style: { fill: "#fff", stroke: "#333", lineWidth: 1 } });
  els.push(text("California populations", 828 + dx, ys.data + 51));
  els.push(text("Inverse transform", 807 + dx, ys.inv - 1));
  els.push(text(title2, 807 + dx, ys.inv + 25));
  swLabels.forEach((l, i) => {
    const y = ys.inv + 52 + i * 26;
    els.push({ type: "rect", z: 60, shape: { x: 807 + dx, y: y - 6, width: 12, height: 12 }, style: { fill: swColors[i] } });
    els.push(text(l, 828 + dx, y - 1));
  });
  els.push(text("Projected models", 807 + dx, ys.models - 1));
  modelNames.forEach((m, i) => {
    const y = ys.models + 28 + i * 26;
    els.push({ type: "line", z: 60, shape: { x1: 807 + dx, y1: y, x2: 841 + dx, y2: y }, style: { stroke: modelColors[i], lineWidth: 4, lineCap: "round" } });
    els.push(text(m, 846 + dx, y - 1, { italic: true, size: 19.6 }));
  });
  return els;
}

const veinLabelPos = [[123,250],[153,282],[185,319],[215,351],[242,381],[268,413],[292,445],[322,474],[352,504],[398,537]];
const lobingLabelPos = [[137,957],[137,906],[147,882],[166,858],[184,837],[205,818],[229,802],[263,786],[301,777],[348,774]];

export default function App() {
  const ref = useRef<HTMLDivElement>(null);
  useEffect(() => {
    document.body.style.margin = "0";
    const chart = echarts.init(ref.current!, undefined, { renderer: "svg" });
    const gridA = { left: 103, top: 8, width: 666, height: 648, show: true, borderColor: "#aaa", borderWidth: 1, backgroundColor: "#fff" };
    const gridB = { left: 101, top: 720, width: 667, height: 648, show: true, borderColor: "#666", borderWidth: 1, backgroundColor: "#fff" };
    const a = axes(0), b = axes(1);
    const graphic: any[] = [
      text("A", 18, 18, { bold: true, size: 24, fill: "#000", align: "center" }),
      text("B", 16, 731, { bold: true, size: 24, fill: "#000", align: "center" }),
      { type: "line", z: 60, shape: { x1: 133, y1: 50, x2: 159, y2: 50 }, style: { stroke: "#fff", lineWidth: 1.3 } },
      text("ln(vein-to-blade ratio)", 163, 50, { size: 16, fill: "#fff" }),
      text("isolines", 163, 72, { size: 16, fill: "#fff" }),
      { type: "line", z: 60, shape: { x1: 131, y1: 760, x2: 158, y2: 760 }, style: { stroke: "#fff", lineWidth: 1.2, lineDash: [4, 2] } },
      text("Distal lobing", 161, 761, { size: 16.5, fill: "#fff" }),
      text("isolines", 161, 783, { size: 16.5, fill: "#fff" }),
      ...veinIsoLabels.map((l, i) => text(l, veinLabelPos[i][0], veinLabelPos[i][1], { size: 16, align: "center", fill: "#111" })),
      ...lobingIsoLabels.map((l, i) => text(l, lobingLabelPos[i][0], lobingLabelPos[i][1], { size: 16, align: "center", fill: "#fff" })),
      ...sideLegend(0, { data: 84, inv: 194, models: 407 }, veinSwatchLabels, veinSwatchColors, "ln(vein-to-blade ratio) values"),
      ...sideLegend(-1, { data: 783, inv: 904, models: 1106 }, lobingSwatchLabels, lobingSwatchColors, "distal lobing values"),
    ];
    chart.setOption({
      animation: false,
      backgroundColor: "#fff",
      grid: [gridA, gridB],
      xAxis: [a.x, b.x],
      yAxis: [a.y, b.y],
      series: [...buildPanelSeries(0, veinRows, magmaDomain, magmaColors), ...buildPanelSeries(1, lobingRows, viridisDomain, viridisColors)],
      graphic: { elements: graphic },
    });
    return () => chart.dispose();
  }, []);
  return <div ref={ref} style={{ width: 1070, height: 1421 }} />;
}
